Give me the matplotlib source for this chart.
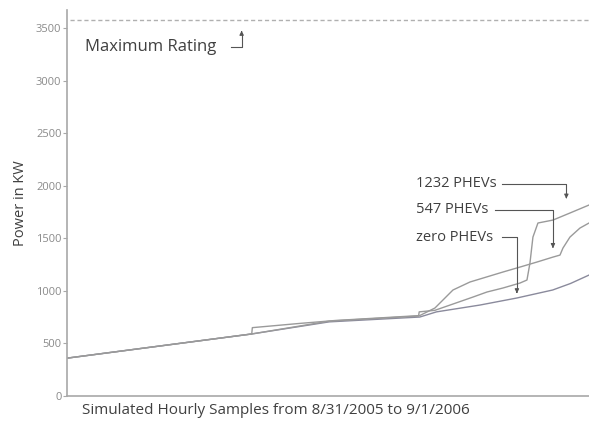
import matplotlib
matplotlib.use("Agg")
import matplotlib.pyplot as plt

plt.rcParams['font.family'] = ['Open Sans', 'DejaVu Sans']

# hourly sample index (0 .. 8760) and power in kW
zero_hours = [0, 3100, 4400, 5920, 6200, 6930, 7550, 8150, 8450, 8760]
zero_kw = [360, 590, 705, 751, 800, 865, 932, 1008, 1070, 1150]

phev547_hours = [0, 3100, 3110, 3900, 4500, 5920, 6175, 6477, 6762, 7316, 7601,
                 7887, 8155, 8273, 8323, 8440, 8608, 8760]
phev547_kw = [360, 590, 650, 690, 718, 765, 837, 1008, 1084, 1179, 1226,
              1274, 1321, 1340, 1407, 1511, 1597, 1645]

phev1232_hours = [0, 3100, 4400, 5900, 5910, 6175, 6813, 7048, 7316, 7601, 7719,
                  7769, 7819, 7903, 8155, 8440, 8760]
phev1232_kw = [360, 590, 712, 760, 800, 815, 941, 989, 1027, 1074, 1103,
               1264, 1511, 1645, 1673, 1740, 1816]

max_rating = 3580

fig = plt.figure(figsize=(5.89, 4.26), dpi=100)
ax = fig.add_axes([0.1138, 0.0704, 0.8862, 0.906])

ax.plot(zero_hours, zero_kw, color='#8a8a9c', lw=1.0)
ax.plot(phev547_hours, phev547_kw, color='#9a9a9a', lw=1.0)
ax.plot(phev1232_hours, phev1232_kw, color='#9a9a9a', lw=1.0)
ax.axhline(max_rating, xmin=0.005, color='#b0b0b0', lw=1.0, ls=(0, (3, 2)))

ax.set_xlim(0, 8760)
ax.set_ylim(0, 3670)
ax.set_yticks([0, 500, 1000, 1500, 2000, 2500, 3000, 3500])
ax.set_xticks([])
for s in ['top', 'right']:
    ax.spines[s].set_visible(False)
for s in ['left', 'bottom']:
    ax.spines[s].set_color('#a8a8a8')
    ax.spines[s].set_linewidth(1.2)
ax.tick_params(axis='y', colors='#a8a8a8', labelcolor='#8a8a8a', labelsize=8,
               length=3, pad=1)

ax.set_ylabel('Power in KW', fontsize=10.5, color='#404040', labelpad=6)
fig.text(276 / 589, 1 - 411 / 426, 'Simulated Hourly Samples from 8/31/2005 to 9/1/2006',
         ha='center', va='center', fontsize=11, color='#404040')

arrow_kw = dict(color='#555555', lw=0.8)
# Maximum Rating label with bent arrow
ax.text(300, 3320, 'Maximum Rating', fontsize=12, color='#404040', va='center')
ax.plot([2750, 2930, 2930], [3320, 3320, 3440], **arrow_kw)
ax.annotate('', xy=(2930, 3500), xytext=(2930, 3430),
            arrowprops=dict(arrowstyle='-|>', color='#555555', lw=0.8, mutation_scale=6))

labels = ['1232 PHEVs', '547 PHEVs', 'zero PHEVs']
label_kw = [2020, 1770, 1510]
elbow_start = [7300, 7180, 7300]
elbow_x = [8380, 8155, 7550]
tip_kw = [1850, 1380, 950]
for lab, ly, x0, ex, ty in zip(labels, label_kw, elbow_start, elbow_x, tip_kw):
    ax.text(5850, ly, lab, fontsize=10.5, color='#404040', va='center')
    ax.plot([x0, ex, ex], [ly, ly, ty + 60], **arrow_kw)
    ax.annotate('', xy=(ex, ty), xytext=(ex, ty + 70),
                arrowprops=dict(arrowstyle='-|>', color='#555555', lw=0.8, mutation_scale=6))

fig.savefig('out.png', dpi=100)
